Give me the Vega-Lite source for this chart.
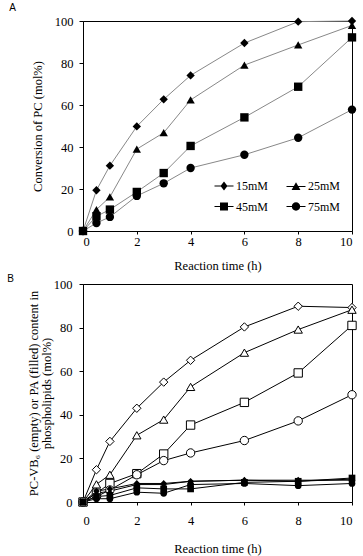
{
  "$schema": "https://vega.github.io/schema/vega-lite/v6.json",
  "padding": {"left": 6, "top": 2, "right": 0, "bottom": 0},
  "spacing": 0,
  "config": {
    "font": "Liberation Serif",
    "view": {"stroke": "#000", "strokeWidth": 1},
    "axis": {
      "grid": false, "domainColor": "#000", "tickColor": "#000", "labelColor": "#000", "titleColor": "#000",
      "labelFont": "Liberation Serif", "titleFont": "Liberation Serif", "labelFontSize": 12.5, "titleFontSize": 12.5,
      "titleFontWeight": "normal", "tickSize": 4, "domainWidth": 1, "tickWidth": 1
    },
    "legend": {"labelFont": "Liberation Serif", "labelColor": "#000"},
    "title": {"font": "Liberation Sans", "fontSize": 10, "fontWeight": "normal", "anchor": "start", "frame": "bounds", "color": "#000"}
  },
  "datasets": {
    "a": [
      {"t": 0, "v": 0, "c": "15mM"}, {"t": 0.5, "v": 19.4, "c": "15mM"}, {"t": 1, "v": 31.1, "c": "15mM"}, {"t": 2, "v": 49.8, "c": "15mM"}, {"t": 3, "v": 62.7, "c": "15mM"}, {"t": 4, "v": 74.1, "c": "15mM"}, {"t": 6, "v": 89.5, "c": "15mM"}, {"t": 8, "v": 99.7, "c": "15mM"}, {"t": 10, "v": 100, "c": "15mM"},
      {"t": 0, "v": 0, "c": "25mM"}, {"t": 0.5, "v": 10.2, "c": "25mM"}, {"t": 1, "v": 16.2, "c": "25mM"}, {"t": 2, "v": 39, "c": "25mM"}, {"t": 3, "v": 46.8, "c": "25mM"}, {"t": 4, "v": 62.4, "c": "25mM"}, {"t": 6, "v": 79, "c": "25mM"}, {"t": 8, "v": 88.6, "c": "25mM"}, {"t": 10, "v": 97.9, "c": "25mM"},
      {"t": 0, "v": 0, "c": "45mM"}, {"t": 0.5, "v": 7, "c": "45mM"}, {"t": 1, "v": 10.2, "c": "45mM"}, {"t": 2, "v": 18.6, "c": "45mM"}, {"t": 3, "v": 27.6, "c": "45mM"}, {"t": 4, "v": 40.5, "c": "45mM"}, {"t": 6, "v": 54.1, "c": "45mM"}, {"t": 8, "v": 68.7, "c": "45mM"}, {"t": 10, "v": 92.2, "c": "45mM"},
      {"t": 0, "v": 0, "c": "75mM"}, {"t": 0.5, "v": 3.8, "c": "75mM"}, {"t": 1, "v": 6.7, "c": "75mM"}, {"t": 2, "v": 16.7, "c": "75mM"}, {"t": 3, "v": 22.7, "c": "75mM"}, {"t": 4, "v": 30, "c": "75mM"}, {"t": 6, "v": 36.3, "c": "75mM"}, {"t": 8, "v": 44.4, "c": "75mM"}, {"t": 10, "v": 57.8, "c": "75mM"}
    ],
    "b": [
      {"t": 0, "v": 0, "c": "15mM", "k": "PC-VB6"}, {"t": 0.5, "v": 14.8, "c": "15mM", "k": "PC-VB6"}, {"t": 1, "v": 27.8, "c": "15mM", "k": "PC-VB6"}, {"t": 2, "v": 43, "c": "15mM", "k": "PC-VB6"}, {"t": 3, "v": 55, "c": "15mM", "k": "PC-VB6"}, {"t": 4, "v": 65, "c": "15mM", "k": "PC-VB6"}, {"t": 6, "v": 80.3, "c": "15mM", "k": "PC-VB6"}, {"t": 8, "v": 89.8, "c": "15mM", "k": "PC-VB6"}, {"t": 10, "v": 89.2, "c": "15mM", "k": "PC-VB6"},
      {"t": 0, "v": 0, "c": "25mM", "k": "PC-VB6"}, {"t": 0.5, "v": 8.1, "c": "25mM", "k": "PC-VB6"}, {"t": 1, "v": 12.5, "c": "25mM", "k": "PC-VB6"}, {"t": 2, "v": 30.6, "c": "25mM", "k": "PC-VB6"}, {"t": 3, "v": 37.8, "c": "25mM", "k": "PC-VB6"}, {"t": 4, "v": 52.8, "c": "25mM", "k": "PC-VB6"}, {"t": 6, "v": 68.5, "c": "25mM", "k": "PC-VB6"}, {"t": 8, "v": 79.1, "c": "25mM", "k": "PC-VB6"}, {"t": 10, "v": 88.2, "c": "25mM", "k": "PC-VB6"},
      {"t": 0, "v": 0, "c": "45mM", "k": "PC-VB6"}, {"t": 0.5, "v": 4, "c": "45mM", "k": "PC-VB6"}, {"t": 1, "v": 8.5, "c": "45mM", "k": "PC-VB6"}, {"t": 2, "v": 13, "c": "45mM", "k": "PC-VB6"}, {"t": 3, "v": 22, "c": "45mM", "k": "PC-VB6"}, {"t": 4, "v": 35.3, "c": "45mM", "k": "PC-VB6"}, {"t": 6, "v": 45.7, "c": "45mM", "k": "PC-VB6"}, {"t": 8, "v": 59.2, "c": "45mM", "k": "PC-VB6"}, {"t": 10, "v": 81, "c": "45mM", "k": "PC-VB6"},
      {"t": 0, "v": 0, "c": "75mM", "k": "PC-VB6"}, {"t": 0.5, "v": 2.5, "c": "75mM", "k": "PC-VB6"}, {"t": 1, "v": 5.5, "c": "75mM", "k": "PC-VB6"}, {"t": 2, "v": 12.5, "c": "75mM", "k": "PC-VB6"}, {"t": 3, "v": 19, "c": "75mM", "k": "PC-VB6"}, {"t": 4, "v": 22.5, "c": "75mM", "k": "PC-VB6"}, {"t": 6, "v": 28.2, "c": "75mM", "k": "PC-VB6"}, {"t": 8, "v": 37.2, "c": "75mM", "k": "PC-VB6"}, {"t": 10, "v": 49.2, "c": "75mM", "k": "PC-VB6"},
      {"t": 0, "v": 0, "c": "15mM", "k": "PA"}, {"t": 0.5, "v": 5, "c": "15mM", "k": "PA"}, {"t": 1, "v": 6, "c": "15mM", "k": "PA"}, {"t": 2, "v": 8.5, "c": "15mM", "k": "PA"}, {"t": 3, "v": 8.5, "c": "15mM", "k": "PA"}, {"t": 4, "v": 9.5, "c": "15mM", "k": "PA"}, {"t": 6, "v": 10, "c": "15mM", "k": "PA"}, {"t": 8, "v": 10, "c": "15mM", "k": "PA"}, {"t": 10, "v": 10, "c": "15mM", "k": "PA"},
      {"t": 0, "v": 0, "c": "25mM", "k": "PA"}, {"t": 0.5, "v": 4, "c": "25mM", "k": "PA"}, {"t": 1, "v": 5, "c": "25mM", "k": "PA"}, {"t": 2, "v": 8, "c": "25mM", "k": "PA"}, {"t": 3, "v": 8, "c": "25mM", "k": "PA"}, {"t": 4, "v": 9.5, "c": "25mM", "k": "PA"}, {"t": 6, "v": 10, "c": "25mM", "k": "PA"}, {"t": 8, "v": 9.5, "c": "25mM", "k": "PA"}, {"t": 10, "v": 10.5, "c": "25mM", "k": "PA"},
      {"t": 0, "v": 0, "c": "45mM", "k": "PA"}, {"t": 0.5, "v": 2.5, "c": "45mM", "k": "PA"}, {"t": 1, "v": 3, "c": "45mM", "k": "PA"}, {"t": 2, "v": 6.5, "c": "45mM", "k": "PA"}, {"t": 3, "v": 6, "c": "45mM", "k": "PA"}, {"t": 4, "v": 6, "c": "45mM", "k": "PA"}, {"t": 6, "v": 9, "c": "45mM", "k": "PA"}, {"t": 8, "v": 9.5, "c": "45mM", "k": "PA"}, {"t": 10, "v": 11, "c": "45mM", "k": "PA"},
      {"t": 0, "v": 0, "c": "75mM", "k": "PA"}, {"t": 0.5, "v": 1.5, "c": "75mM", "k": "PA"}, {"t": 1, "v": 1.5, "c": "75mM", "k": "PA"}, {"t": 2, "v": 4.5, "c": "75mM", "k": "PA"}, {"t": 3, "v": 4, "c": "75mM", "k": "PA"}, {"t": 4, "v": 8, "c": "75mM", "k": "PA"}, {"t": 6, "v": 8.5, "c": "75mM", "k": "PA"}, {"t": 8, "v": 7.5, "c": "75mM", "k": "PA"}, {"t": 10, "v": 8.5, "c": "75mM", "k": "PA"}
    ]
  },
  "vconcat": [
    {
      "title": {"text": "A", "dx": -22, "offset": 2},
      "width": 269,
      "height": 210,
      "data": {"name": "a"},
      "encoding": {
        "x": {"field": "t", "type": "quantitative", "scale": {"domain": [0, 10], "nice": false},
              "axis": {"values": [0, 2, 4, 6, 8, 10], "title": "Reaction time (h)", "tickSize": 3, "labelPadding": 1, "titlePadding": 12,
                       "labelFont": "Liberation Serif", "titleFont": "Liberation Serif", "labelFontSize": 12.5, "titleFontSize": 12.5, "titleFontWeight": "normal", "labelColor": "#000", "titleColor": "#000"}},
        "y": {"field": "v", "type": "quantitative", "scale": {"domain": [0, 100], "nice": false},
              "axis": {"values": [0, 20, 40, 60, 80, 100], "title": "Conversion of PC (mol%)", "labelPadding": 6, "titlePadding": 10,
                       "labelFont": "Liberation Serif", "titleFont": "Liberation Serif", "labelFontSize": 12.5, "titleFontSize": 12.5, "titleFontWeight": "normal", "labelColor": "#000", "titleColor": "#000"}}
      },
      "layer": [
        {"mark": {"type": "line", "color": "#888", "strokeWidth": 1}, "encoding": {"detail": {"field": "c"}}},
        {"mark": {"type": "point", "filled": true, "color": "#000", "opacity": 1, "size": 70},
         "encoding": {
           "shape": {"field": "c", "type": "nominal",
             "scale": {"domain": ["15mM", "25mM", "45mM", "75mM"], "range": ["diamond", "triangle-up", "square", "circle"]},
             "legend": null}
         }},
        {"transform": [{"filter": "datum.t > 100"}],
         "mark": {"type": "point", "filled": true, "color": "#000", "opacity": 1},
         "encoding": {
           "shape": {"field": "c", "type": "nominal",
             "scale": {"domain": ["15mM", "25mM", "45mM", "75mM"], "range": [
               "M-1,-0.055H1V0.055H-1ZM0,-0.47L0.37,0L0,0.47L-0.37,0Z",
               "M-1,-0.055H1V0.055H-1ZM0,-0.45L0.47,0.38L-0.47,0.38Z",
               "M-1,-0.055H1V0.055H-1ZM-0.42,-0.42H0.42V0.42H-0.42Z",
               "M-1,-0.055H1V0.055H-1ZM0.44,0A0.44,0.44,0,1,1,-0.44,0A0.44,0.44,0,1,1,0.44,0Z"]},
             "legend": {
               "title": null, "orient": "none", "legendX": 130.5, "legendY": 154.5, "columns": 2, "direction": "horizontal",
               "symbolSize": 361, "symbolFillColor": "#000", "symbolOpacity": 1,
               "labelOffset": 1.5, "columnPadding": 15, "rowPadding": 2.5,
               "labelFont": "Liberation Serif", "labelFontSize": 12, "labelColor": "#000"
             }}
         }}
      ],
      "resolve": {"scale": {"shape": "independent"}}
    },
    {
      "title": {"text": "B", "dx": -20, "offset": -6},
      "width": 269,
      "height": 218,
      "data": {"name": "b"},
      "encoding": {
        "x": {"field": "t", "type": "quantitative", "scale": {"domain": [0, 10], "nice": false},
              "axis": {"values": [0, 2, 4, 6, 8, 10], "title": "Reaction time (h)", "tickSize": 3, "labelPadding": 9, "titlePadding": 16,
                       "labelFont": "Liberation Serif", "titleFont": "Liberation Serif", "labelFontSize": 12.5, "titleFontSize": 12.5, "titleFontWeight": "normal", "labelColor": "#000", "titleColor": "#000"}},
        "y": {"field": "v", "type": "quantitative", "scale": {"domain": [0, 100], "nice": false},
              "axis": {"values": [0, 20, 40, 60, 80, 100], "title": ["PC-VB₆ (empty) or PA (filled) content in", "phospholipids (mol%)"], "titleLineHeight": 13, "labelPadding": 7, "titlePadding": 0,
                       "labelFont": "Liberation Serif", "titleFont": "Liberation Serif", "labelFontSize": 12.5, "titleFontSize": 12.5, "titleFontWeight": "normal", "labelColor": "#000", "titleColor": "#000"}}
      },
      "layer": [
        {"mark": {"type": "line", "color": "#000", "strokeWidth": 1}, "encoding": {"detail": [{"field": "c"}, {"field": "k"}]}},
        {"transform": [{"filter": "datum.k === 'PC-VB6'"}],
         "mark": {"type": "point", "filled": true, "fill": "#fff", "stroke": "#000", "strokeWidth": 1, "opacity": 1, "size": 70},
         "encoding": {"shape": {"field": "c", "type": "nominal",
           "scale": {"domain": ["15mM", "25mM", "45mM", "75mM"], "range": ["diamond", "triangle-up", "square", "circle"]}, "legend": null}}},
        {"transform": [{"filter": "datum.k === 'PA'"}],
         "mark": {"type": "point", "filled": true, "color": "#000", "opacity": 1, "size": 45},
         "encoding": {"shape": {"field": "c", "type": "nominal",
           "scale": {"domain": ["15mM", "25mM", "45mM", "75mM"], "range": ["diamond", "triangle-up", "square", "circle"]}, "legend": null}}}
      ]
    }
  ]
}
